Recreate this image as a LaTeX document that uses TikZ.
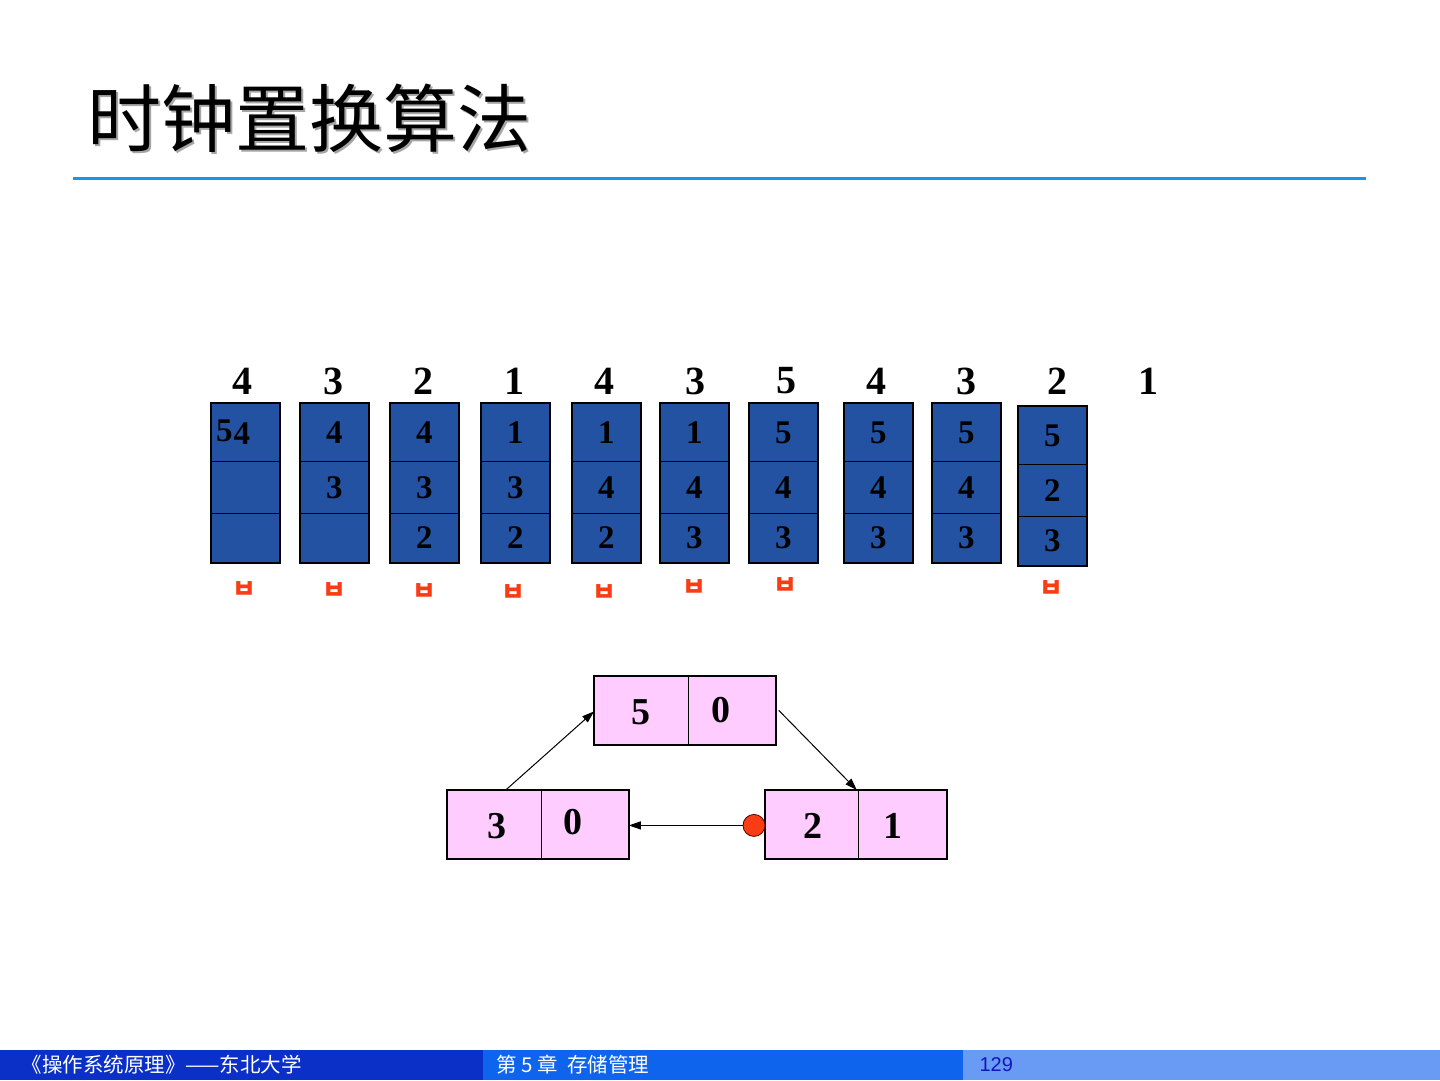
\documentclass[tikz,border=0pt]{standalone}
\usepackage{fontspec}
\setmainfont{Liberation Serif}
\newfontfamily\cjk{Noto Sans CJK SC}
\newfontfamily\kr{Noto Sans CJK KR}
\newfontfamily\arial{Liberation Sans}
\usetikzlibrary{calc,arrows.meta}
\definecolor{cellblue}{RGB}{35,82,163}
\definecolor{pinkbox}{RGB}{255,204,255}
\definecolor{rulecol}{RGB}{20,150,235}
\definecolor{markred}{RGB}{250,60,20}
\definecolor{footA}{RGB}{10,48,200}
\definecolor{footB}{RGB}{15,100,238}
\definecolor{footC}{RGB}{105,155,245}
\definecolor{pagenum}{RGB}{20,20,190}
\begin{document}
\begin{tikzpicture}[x=1pt,y=-1pt,
  cell/.style={draw=black,line width=0.9pt,fill=cellblue,minimum width=68pt,inner sep=0pt,
    anchor=north west,font=\bfseries\fontsize{33}{33}\selectfont},
  frame/.style={draw=black,line width=2pt},
  refnum/.style={font=\bfseries\fontsize{40}{40}\selectfont},
  faultmark/.style={text=markred,font=\kr\bfseries\fontsize{26}{26}\selectfont},
  half/.style={fill=pinkbox,draw=black,line width=0.8pt,inner sep=0pt,minimum height=68pt,anchor=north west},
  boxframe/.style={draw=black,line width=1.6pt},
  boxnum/.style={font=\bfseries\fontsize{38}{38}\selectfont},
  arr/.style={line width=1pt,-{Triangle[length=12pt,width=8pt]}},
  dot/.style={circle,fill=markred,draw=black!70!red,line width=0.8pt,minimum size=22pt,inner sep=0pt},
  foot/.style={font=\cjk\fontsize{20.5}{20.5}\selectfont,text=white,anchor=west}
]
\useasboundingbox (0,0) rectangle (1440,1080);
\fill[white] (0,0) rectangle (1440,1080);

% title
\node[anchor=west,text=black!35,font=\cjk\fontsize{74}{74}\selectfont] (titleshadow) at (85.5,120) {时钟置换算法};
\node[anchor=west,font=\cjk\fontsize{74}{74}\selectfont] (title) at (84,118.5) {时钟置换算法};
\draw[rulecol,line width=3pt] (73,178) -- (1366,178);

% reference string
\foreach \i/\x/\t in {1/242/4,2/333/3,3/423/2,4/514/1,5/604/4,6/695/3,7/786/5,8/876/4,9/966/3,10/1057/2,11/1148/1}
  \node[refnum] (ref\i) at (\x,381) {\t};

% frame columns
\foreach \i/\x/\y/\a/\b/\c in {1/211/403///,2/300/403/4/3/,3/390/403/4/3/2,4/481/403/1/3/2,5/572/403/1/4/2,
   6/660/403/1/4/3,7/749/403/5/4/3,8/844/403/5/4/3,9/932/403/5/4/3,10/1018/406/5/2/3}{
  \node[cell,minimum height=58pt] (c\i a) at (\x,\y) {\a};
  \node[cell,minimum height=52pt] (c\i b) at (\x,\y+58) {\b};
  \node[cell,minimum height=49pt] (c\i c) at (\x,\y+110) {\c};
  \draw[frame] (c\i a.north west) rectangle (c\i c.south east);
}
\node[font=\bfseries\fontsize{33}{33}\selectfont] (fivefour) at (233,432) {\raisebox{3pt}{5}\kern1pt 4};

% page fault marks
\foreach \i/\x/\y in {1/244/590,2/334/591,3/424/592,4/513/593,5/604/593,6/694/588,7/785/586,10/1051/589}
  \node[faultmark] (m\i) at (\x,\y) {ㅂ};

% clock ring
\node[half,minimum width=94pt] (T1) at (594,676) {};
\node[half,minimum width=87pt] (T2) at (688,676) {};
\draw[boxframe] (T1.north west) rectangle (T2.south east);
\node[half,minimum width=94pt] (L1) at (447,790) {};
\node[half,minimum width=87pt] (L2) at (541,790) {};
\draw[boxframe] (L1.north west) rectangle (L2.south east);
\node[half,minimum width=93pt] (R1) at (765,790) {};
\node[half,minimum width=88pt] (R2) at (858,790) {};
\draw[boxframe] (R1.north west) rectangle (R2.south east);

\node[boxnum] (t5) at ($(T1.center)+(0,2)$) {5};
\node[boxnum] (t0) at ($(T2.center)+(-11,0)$) {0};
\node[boxnum] (l3) at ($(L1.center)+(3,2)$) {3};
\node[boxnum] (l0) at ($(L2.center)+(-12,-2)$) {0};
\node[boxnum] (r2) at ($(R1.center)+(1,2)$) {2};
\node[boxnum] (r1) at ($(R2.center)+(-9,2)$) {1};

\node[dot] (P) at ($(R1.west)+(-11,1)$) {};
\draw[arr] ($(L1.north west)!0.62!(L1.north east)$) -- ($(T1.west)+(0,1)$);
\draw[arr] ($(T2.east)+(3,0)$) -- ($(R1.north east)+(-2,0)$);
\draw[arr] (P) -- (L2.east |- P);

% footer
\fill[footA] (0,1050) rectangle (483,1080);
\fill[footB] (483,1050) rectangle (963,1080);
\fill[footC] (963,1050) rectangle (1440,1080);
\node[foot] (fa) at (18,1065) {《操作系统原理》——东北大学};
\node[foot] (fb) at (493,1065) {第 5 章\ \ 存储管理};
\node[anchor=west,text=pagenum,font=\arial\fontsize{20}{20}\selectfont] (fc) at (976,1065) {129};
\end{tikzpicture}
\end{document}
